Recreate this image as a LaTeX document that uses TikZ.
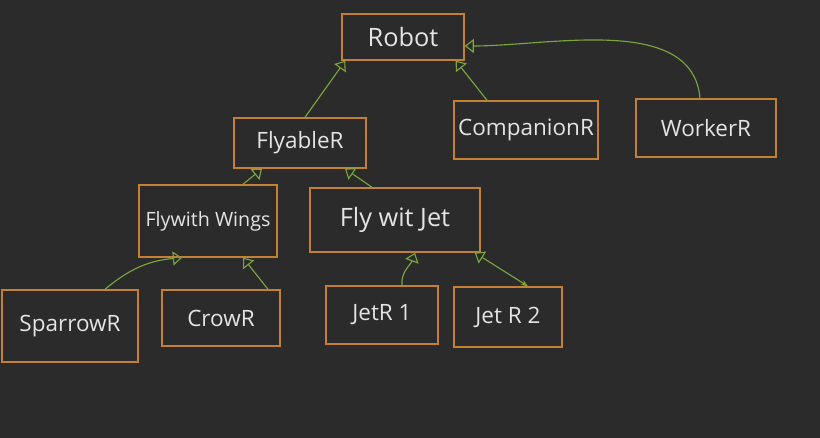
\documentclass[tikz,border=0pt]{standalone}
\usepackage{fontspec}
\setmainfont{Open Sans}
\usetikzlibrary{arrows.meta}
\definecolor{board}{RGB}{43,43,43}
\definecolor{penorange}{RGB}{196,128,52}
\definecolor{pengreen}{RGB}{122,168,62}
\definecolor{chalk}{RGB}{228,228,228}
\tikzset{%
    cls/.style={rectangle,draw=penorange,line width=1pt,text=chalk,inner sep=0pt,
        font=\fontsize{16}{19}\selectfont}
}

\begin{document}
\begin{tikzpicture}[
        x=0.025cm,y=-0.025cm,
        isa/.style={draw=pengreen,line width=0.8pt,-{Triangle[open,width=10pt,length=6.5pt]}},
        uses/.style={draw=pengreen,line width=0.8pt,{Triangle[open,width=10pt,length=6.5pt]}-{Stealth[length=5pt]}}
        ]
        \fill[board] (0,0) rectangle (820,438);

        \node[cls, minimum width=3.05cm, minimum height=1.15cm, font=\fontsize{18}{21}\selectfont] (robot) at (403,37){Robot};

        \node[cls, minimum width=3.3cm, minimum height=1.25cm] (flyable) at (300,143){FlyableR};
        \node[cls, minimum width=3.6cm, minimum height=1.45cm] (companion) at (526,130){CompanionR};
        \node[cls, minimum width=3.5cm, minimum height=1.45cm] (worker) at (706,128){WorkerR};

        \node[cls, minimum width=3.45cm, minimum height=1.8cm, font=\fontsize{14}{17}\selectfont] (wings) at (208,221){Flywith Wings};
        \node[cls, minimum width=4.25cm, minimum height=1.6cm, font=\fontsize{18}{21}\selectfont] (jet) at (395,220){Fly wit Jet};

        \node[cls, minimum width=3.4cm, minimum height=1.8cm] (sparrow) at (70,326){SparrowR};
        \node[cls, minimum width=2.95cm, minimum height=1.4cm] (crow) at (221,318){CrowR};
        \node[cls, minimum width=2.8cm, minimum height=1.45cm] (jetone) at (382,315){JetR 1};
        \node[cls, minimum width=2.7cm, minimum height=1.5cm] (jettwo) at (508,317){Jet R 2};

        \draw[isa] ([xshift=0.125cm]flyable.north) -- ([xshift=0.1cm]robot.south west);
        \draw[isa] ([xshift=-0.975cm]companion.north) -- ([xshift=-0.225cm]robot.south east);
        \draw[isa] ([xshift=-0.15cm]worker.north) to[out=95,in=0,looseness=0.9] ([yshift=-0.225cm]robot.east);
        \draw[isa] ([xshift=0.875cm]wings.north) -- ([xshift=-0.95cm]flyable.south);
        \draw[isa] ([xshift=-0.575cm]jet.north) -- ([xshift=1.125cm]flyable.south);
        \draw[isa] ([xshift=0.875cm]sparrow.north) to[out=40,in=185] ([xshift=-0.65cm]wings.south);
        \draw[isa] ([xshift=1.175cm]crow.north) -- ([xshift=0.875cm]wings.south);
        \draw[isa] ([xshift=0.5cm]jetone.north) to[out=95,in=-110] ([xshift=0.5cm]jet.south);
        \draw[uses] ([xshift=-0.15cm]jet.south east) -- ([xshift=0.5cm]jettwo.north);
    \end{tikzpicture}
\end{document}
